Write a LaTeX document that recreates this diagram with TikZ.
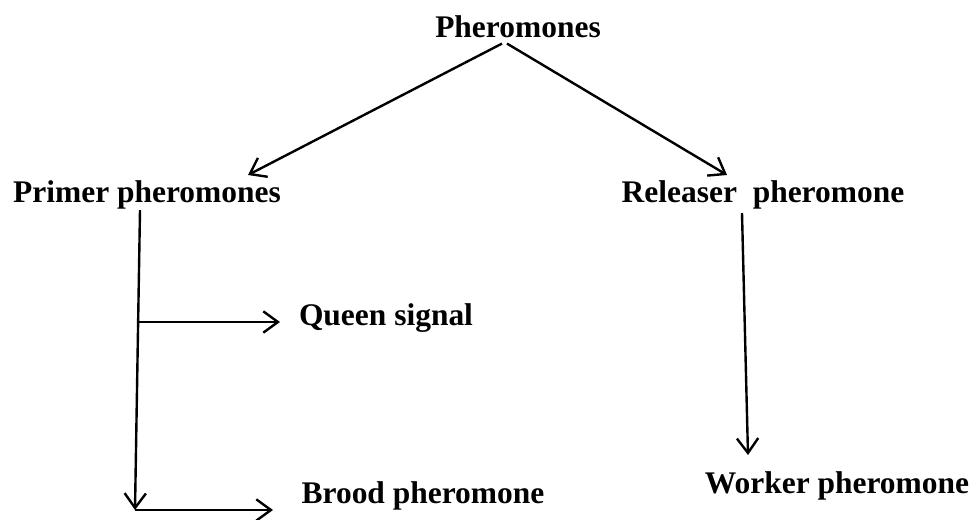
\documentclass[tikz,border=0pt]{standalone}
\usepackage{fontspec}
\setmainfont{Liberation Serif}
\usetikzlibrary{calc,arrows.meta}
\tikzset{%
  term/.style={font=\fontsize{23.6}{28}\selectfont\bfseries,inner sep=0,anchor=base},
  link/.style={draw=black,line width=1.8pt,-{Straight Barb[length=11pt,width=16pt]}}
}

\begin{document}
\begin{tikzpicture}[x=0.75pt,y=-0.75pt]
    \useasboundingbox (0,0) rectangle (976,519);
    \node[term] (phero) at (518,37) {Pheromones};
    \node[term] (primer) at (147,202) {Primer pheromones};
    \node[term] (releaser) at (763,202) {Releaser\ \ pheromone};
    \node[term] (queen) at (386,325) {Queen signal};
    \node[term] (brood) at (423,503) {Brood pheromone};
    \node[term] (worker) at (837,493) {Worker pheromone};
    % branch points and arrow tips
    \coordinate (ph_l) at ($(phero.south)+(-16,6)$);
    \coordinate (ph_r) at ($(phero.south)+(-11,6)$);
    \coordinate (primer_in) at (248,175);
    \coordinate (releaser_in) at (727,175);
    \coordinate (p_top) at (140,210);
    \coordinate (p_mid) at (138,322);
    \coordinate (p_bot) at (135,510);
    \coordinate (queen_in) at (280,322);
    \coordinate (brood_in) at (273,510);
    \coordinate (r_top) at (742,213);
    \coordinate (worker_in) at (748,455);
    \draw[link] (ph_l) -- (primer_in);
    \draw[link] (ph_r) -- (releaser_in);
    \draw[link] (p_top) -- (p_bot);
    \draw[link] (p_mid) -- (queen_in);
    \draw[link] (p_bot) -- (brood_in);
    \draw[link] (r_top) -- (worker_in);
  \end{tikzpicture}
\end{document}
